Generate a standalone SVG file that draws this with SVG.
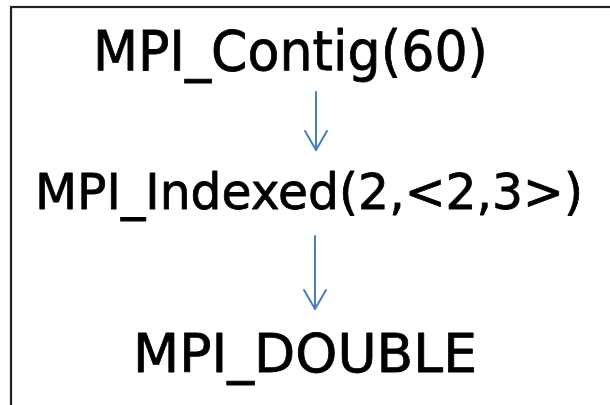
<svg xmlns="http://www.w3.org/2000/svg" width="610" height="405" viewBox="0 0 610 405">
  <defs>
    <style>
      .frame { fill: #ffffff; stroke: #222222; stroke-width: 2.2; }
      .label { font-family: "Comic Sans MS", "DejaVu Sans", sans-serif; fill: #000000; stroke: #000000; stroke-width: 0.8; stroke-linejoin: round; }
      .link { stroke: #4a7ebb; stroke-width: 2; fill: none; stroke-linecap: round; stroke-linejoin: round; }
    </style>
    <!-- open V arrowhead, drawn pointing along +x -->
    <marker id="vhead" viewBox="0 0 22 24" refX="20" refY="12" markerWidth="22" markerHeight="24" markerUnits="userSpaceOnUse" orient="auto">
      <path d="M1,1 L20,12 L1,23" fill="none" stroke="#4a7ebb" stroke-width="2" stroke-linecap="round" stroke-linejoin="round"/>
    </marker>
  </defs>

  <rect width="610" height="405" fill="#ffffff"/>
  <rect class="frame" x="11" y="7" width="620" height="420"/>

  <g id="contig">
    <text class="label" x="93" y="70" font-size="55" textLength="395" lengthAdjust="spacingAndGlyphs">MPI_Contig(60)</text>
  </g>

  <g id="indexed">
    <text class="label" x="35" y="209" font-size="50" textLength="548" lengthAdjust="spacingAndGlyphs">MPI_Indexed(2,&lt;2,3&gt;)</text>
  </g>

  <g id="double">
    <text class="label" x="133" y="372" font-size="54" textLength="344" lengthAdjust="spacingAndGlyphs">MPI_DOUBLE</text>
  </g>

  <g id="connectors">
    <line class="link" x1="316" y1="92" x2="316" y2="150" marker-end="url(#vhead)"/>
    <line class="link" x1="315" y1="236" x2="315" y2="309" marker-end="url(#vhead)"/>
  </g>
</svg>
